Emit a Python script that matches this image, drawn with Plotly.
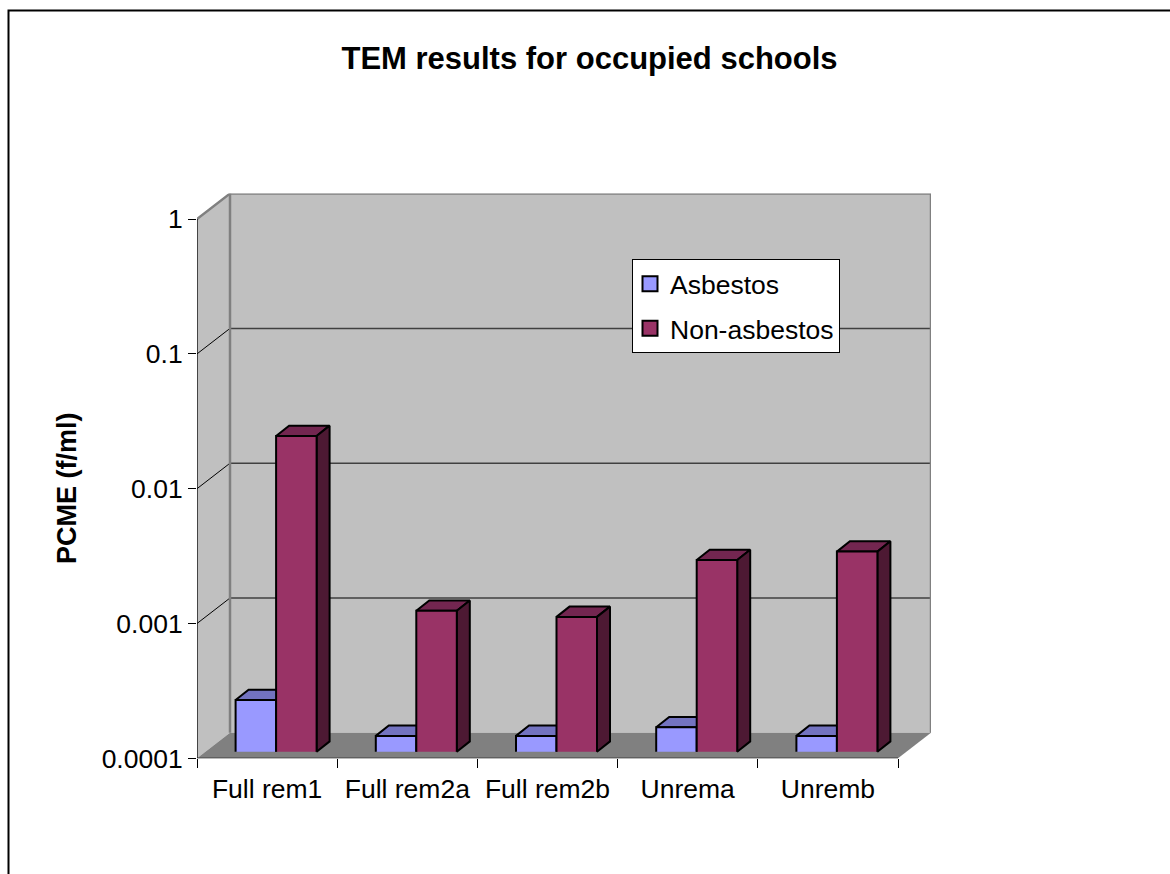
import math
import plotly.graph_objects as go

categories = ["Full rem1", "Full rem2a", "Full rem2b", "Unrema", "Unremb"]
asbestos = [0.000242, 0.000131, 0.000131, 0.000152, 0.000131]
non_asbestos = [0.022, 0.00111, 0.00100, 0.00264, 0.00305]
y_tick_values = [0.0001, 0.001, 0.01, 0.1, 1]
y_tick_labels = ["0.0001", "0.001", "0.01", "0.1", "1"]

W, H = 1170, 874
X0, X_STEP = 197.0, 140.2      # front plane: left edge, px per category
Y0, Y_DEC = 758.3, 134.8       # front plane: bottom, px per decade
BACK_DX, BACK_DY = 33.0, 25.5  # depth of the box
BAR_DX, BAR_DY = 9.0, 6.6      # bars stand this far back from the front plane
DEPTH_DX, DEPTH_DY = 13.0, 10.3  # depth of each bar
BAR_W = 40.5
FONT = "Liberation Sans"

BLUE, BLUE_TOP = "#9999FF", "#7373C0"
MAROON, MAROON_TOP, MAROON_SIDE = "#993366", "#732650", "#4D1933"

n = len(categories)
dec = lambda p: 10 ** (p / Y_DEC)
xl, xr = -0.5, n - 0.5
bdx = BACK_DX / X_STEP
bk = dec(BACK_DY)
ymin, ymax = y_tick_values[0], y_tick_values[-1]

fig = go.Figure()


def poly(xs, ys, fill=None, line=None, width=0):
    fig.add_trace(go.Scatter(
        x=xs, y=ys, mode="lines", showlegend=False, hoverinfo="skip", cliponaxis=False,
        fill="toself" if fill else None, fillcolor=fill,
        line=dict(color=line or "rgba(0,0,0,0)", width=width),
        xaxis="x", yaxis="y"))


# walls and floor
poly([xl, xl + bdx, xl + bdx, xl, xl], [ymin, ymin * bk, ymax * bk, ymax, ymin], fill="#C0C0C0")
poly([xl + bdx, xr + bdx, xr + bdx, xl + bdx, xl + bdx],
     [ymin * bk, ymin * bk, ymax * bk, ymax * bk, ymin * bk], fill="#C0C0C0")
poly([xl, xr, xr + bdx, xl + bdx, xl], [ymin, ymin, ymin * bk, ymin * bk, ymin], fill="#808080")

# gridlines
for v in y_tick_values[1:-1]:
    poly([xl, xl + bdx], [v, v * bk], line="#000000", width=1)
    poly([xl + bdx, xr + bdx], [v * bk, v * bk], line="#404040", width=1.5)

# wall edges
poly([xl, xl + bdx, xr + bdx, xr + bdx],
     [ymax, ymax * bk, ymax * bk, ymin * bk], line="#808080", width=2.5)
poly([xl + bdx, xl + bdx], [ymin * bk, ymax * bk], line="#808080", width=2.5)

# axis lines
poly([xl, xl], [ymin, ymax], line="#000000", width=1.3)
poly([xl, xr], [ymin, ymin], line="#000000", width=1.3)

# bar depth faces
shift = BAR_DX / X_STEP
bw = BAR_W / X_STEP
ddx = DEPTH_DX / X_STEP
dk = dec(DEPTH_DY)
yshift = dec(BAR_DY)
for i in range(n):
    c = i + shift
    # asbestos: only the top is visible, the next bar hides the rest
    v = asbestos[i] * yshift
    L, R = c - bw, c
    poly([L, R, R + ddx, L + ddx, L], [v, v, v * dk, v * dk, v], fill=BLUE_TOP, line="#000000", width=2)
    # non-asbestos: top and side
    v = non_asbestos[i] * yshift
    L, R = c, c + bw
    b = ymin * yshift
    poly([L, R, R + ddx, L + ddx, L], [v, v, v * dk, v * dk, v], fill=MAROON_TOP, line="#000000", width=2)
    poly([R, R + ddx, R + ddx, R, R], [v, v * dk, b * dk, b, v], fill=MAROON_SIDE, line="#000000", width=2)

# bar front faces, in a subplot set back by the bars' own offset
xs = list(range(n))
fig.add_trace(go.Bar(x=xs, y=asbestos, name="Asbestos", marker=dict(color=BLUE, line=dict(color="#000000", width=2)),
                     xaxis="x2", yaxis="y2", showlegend=False, hoverinfo="skip"))
fig.add_trace(go.Bar(x=xs, y=non_asbestos, name="Non-asbestos", marker=dict(color=MAROON, line=dict(color="#000000", width=2)),
                     xaxis="x2", yaxis="y2", showlegend=False, hoverinfo="skip"))

# legend keys
for name, col in (("Asbestos", BLUE), ("Non-asbestos", MAROON)):
    fig.add_trace(go.Scatter(x=[None], y=[None], mode="markers", name=name, xaxis="x", yaxis="y", legendgroup=name,
                             marker=dict(symbol="square", size=15, color=col, line=dict(color="#000000", width=2))))

x_right_px = X0 + (n * X_STEP) + BACK_DX
y_top_px = Y0 - (math.log10(ymax / ymin) * Y_DEC) - BACK_DY

fig.update_layout(
    width=W, height=H, autosize=False,
    margin=dict(l=0, r=0, t=0, b=0, autoexpand=False),
    paper_bgcolor="#FFFFFF", plot_bgcolor="rgba(0,0,0,0)",
    font=dict(family=FONT, size=26.5, color="#000000"),
    barmode="group", bargap=1 - 2 * BAR_W / X_STEP, bargroupgap=0,
    title=dict(text="<b>TEM results for occupied schools</b>", x=589.5 / W, xanchor="center",
               y=1 - 58 / H, yanchor="middle", font=dict(family=FONT, size=31)),
    xaxis=dict(domain=[X0 / W, x_right_px / W], range=[xl, xl + (x_right_px - X0) / X_STEP],
               tickmode="array", tickvals=xs, ticktext=categories,
               ticks="outside", ticklen=7, tickcolor="rgba(0,0,0,0)", showgrid=False, zeroline=False,
               showline=False, tickfont=dict(size=26.5),
               minor=dict(tickmode="array", tickvals=[i - 0.5 for i in range(n + 1)], ticks="outside",
                          ticklen=9, tickwidth=1, tickcolor="#000000", showgrid=False)),
    yaxis=dict(domain=[1 - Y0 / H, 1 - y_top_px / H], type="log",
               range=[math.log10(ymin), math.log10(ymax * bk)],
               tickmode="array", tickvals=y_tick_values, ticktext=y_tick_labels,
               ticks="outside", ticklen=8, tickwidth=1, tickcolor="#000000", showgrid=False, zeroline=False,
               showline=False, tickfont=dict(size=26.5)),
    xaxis2=dict(domain=[(X0 + BAR_DX) / W, (X0 + BAR_DX + n * X_STEP) / W], range=[xl, xr], anchor="y2", visible=False),
    yaxis2=dict(domain=[1 - (Y0 - BAR_DY) / H, 1 - (Y0 - BAR_DY - math.log10(ymax / ymin) * Y_DEC) / H], type="log",
                range=[math.log10(ymin), math.log10(ymax)], anchor="x2", visible=False),
    legend=dict(x=632 / W, y=1 - 259 / H, xanchor="left", yanchor="top", bgcolor="#FFFFFF",
                bordercolor="#000000", borderwidth=1, font=dict(size=26.5), itemsizing="trace", itemwidth=30,
                tracegroupgap=7, indentation=-3),
    shapes=[dict(type="path", xref="paper", yref="paper", path=f"M {8.5/W},0 L {8.5/W},{1-10.5/H} L 1,{1-10.5/H}",
                 line=dict(color="#000000", width=2), layer="above")],
    annotations=[dict(text="<b>PCME (f/ml)</b>", xref="paper", yref="paper", x=67 / W, y=1 - 488 / H,
                      xanchor="center", yanchor="middle", textangle=-90, showarrow=False,
                      font=dict(family=FONT, size=27))],
)

fig.write_html("out.html", config={"displayModeBar": False},
               post_script="document.body.style.margin='0';document.body.style.overflow='hidden';")
